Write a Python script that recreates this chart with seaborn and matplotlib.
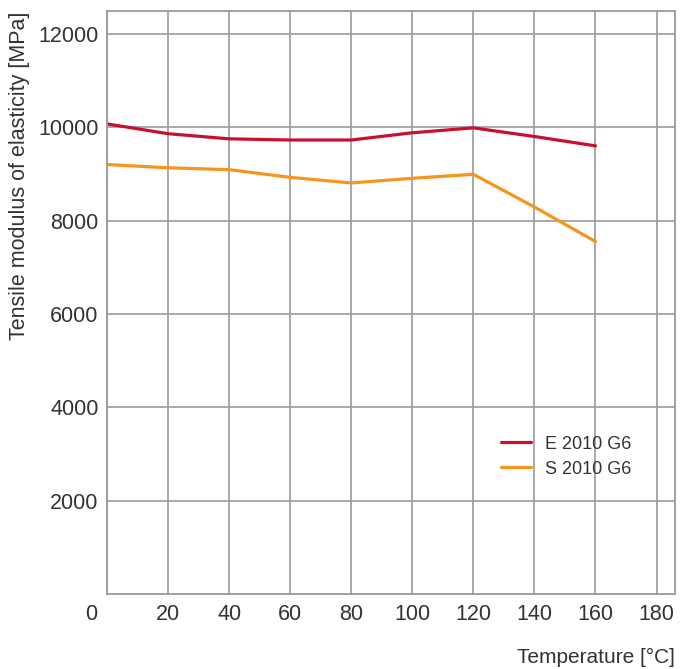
import pandas as pd
import matplotlib
matplotlib.use("Agg")
import matplotlib.pyplot as plt
import matplotlib.transforms as mtransforms
import seaborn as sns

# Data
temperature = [0, 20, 40, 60, 80, 100, 120, 140, 160]
e2010_g6 = [10070, 9860, 9750, 9725, 9725, 9880, 9985, 9800, 9600]
s2010_g6 = [9200, 9130, 9090, 8925, 8805, 8905, 8990, 8290, 7550]
series_names = ["E 2010 G6", "S 2010 G6"]
series_colors = ["#c8102e", "#f7941d"]
x_ticks = [0, 20, 40, 60, 80, 100, 120, 140, 160, 180]
y_ticks = [2000, 4000, 6000, 8000, 10000, 12000]

df = pd.concat([
    pd.DataFrame({"Temperature": temperature, "Modulus": e2010_g6, "Grade": series_names[0]}),
    pd.DataFrame({"Temperature": temperature, "Modulus": s2010_g6, "Grade": series_names[1]}),
])

sns.set_theme(style="whitegrid")
plt.rcParams["font.family"] = ["Liberation Sans", "DejaVu Sans"]
text_color = "#333333"
grid_color = "#9a9a9a"

fig = plt.figure(figsize=(6.95, 6.69), dpi=100)
ax = fig.add_axes([0.154, 0.112, 0.817, 0.871])

sns.lineplot(data=df, x="Temperature", y="Modulus", hue="Grade",
             palette=dict(zip(series_names, series_colors)),
             linewidth=2.3, ax=ax)

ax.set_xlim(0, 186)
ax.set_ylim(0, 12480)
ax.set_xticks(x_ticks)
ax.set_yticks(y_ticks)
ax.grid(True, color=grid_color, linewidth=1.2)
for sp in ax.spines.values():
    sp.set_color(grid_color)
    sp.set_linewidth(1.3)

ax.tick_params(axis="both", length=0, labelsize=15.5, labelcolor=text_color)
ax.tick_params(axis="x", pad=7)
ax.tick_params(axis="y", pad=6)

# origin label sits left of the axis corner
first = ax.get_xticklabels()[0]
first.set_transform(first.get_transform() +
                    mtransforms.ScaledTranslation(-0.16, 0, fig.dpi_scale_trans))

ax.set_xlabel("Temperature [°C]", loc="right", fontsize=15, color=text_color, labelpad=17)
ax.set_ylabel("Tensile modulus of elasticity [MPa]", loc="top", fontsize=15.5,
              color=text_color, labelpad=6)

leg = ax.legend(loc="upper left", bbox_to_anchor=(0.665, 0.30), frameon=False,
                fontsize=13, handlelength=1.65, labelspacing=0.45)
for t in leg.get_texts():
    t.set_color(text_color)
leg.set_title(None)

fig.savefig("out.png", dpi=100)
